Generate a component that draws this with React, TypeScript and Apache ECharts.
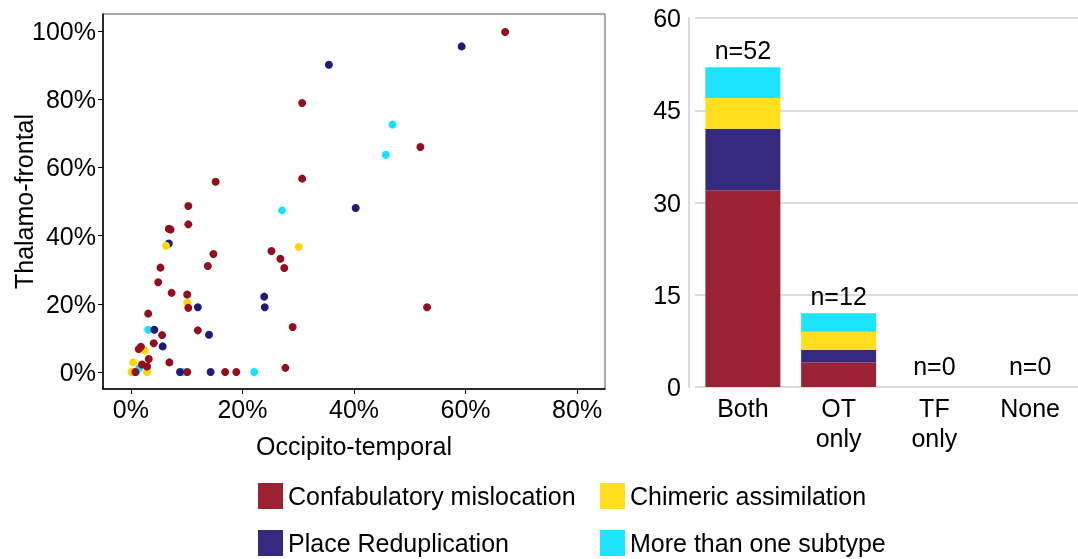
import React, { useEffect, useRef } from "react";
import * as echarts from "echarts";

const subtypes = ["Confabulatory mislocation", "Place Reduplication", "Chimeric assimilation", "More than one subtype"];
const barColors = ["#9B2232", "#352A7E", "#FFDF1E", "#1DE4FE"];
const dotColors = ["#910F1F", "#201A78", "#FFD500", "#18E1FF"];

// Scatter: [Occipito-temporal %, Thalamo-frontal %]
const confabulatory: number[][] = [
  [67.1, 99.7], [30.7, 78.9], [51.9, 66.0], [30.7, 56.7], [15.2, 55.8], [10.3, 48.7],
  [10.3, 43.3], [6.8, 42.0], [7.1, 41.8], [25.2, 35.5], [14.8, 34.6], [26.8, 33.2],
  [13.8, 31.1], [5.3, 30.6], [27.5, 30.5], [4.9, 26.3], [7.3, 23.2], [10.1, 22.7],
  [53.1, 19.0], [10.3, 18.8], [3.1, 17.1], [29.0, 13.2], [12.0, 12.2], [5.6, 10.8],
  [4.1, 8.4], [1.4, 6.7], [1.8, 7.4], [3.2, 3.8], [6.9, 2.8], [2.0, 2.2], [2.9, 1.6],
  [27.7, 1.2], [0.8, 0], [10.1, 0], [16.9, 0], [18.9, 0],
];
const placeRedup: number[][] = [
  [59.3, 95.5], [35.5, 90.1], [40.3, 48.1], [6.8, 37.7], [23.9, 22.1], [24.0, 19.0],
  [12.0, 19.0], [4.2, 12.4], [14.0, 10.9], [5.7, 7.5], [8.8, 0], [14.3, 0],
];
const chimeric: number[][] = [
  [6.3, 37.0], [30.1, 36.7], [10.1, 20.3], [2.5, 6.3], [0.4, 2.8], [0.1, 0], [2.9, 0], [0.3, 0],
];
const moreThanOne: number[][] = [
  [46.9, 72.6], [45.7, 63.7], [27.1, 47.4], [3.1, 12.4], [1.5, 1.2], [22.1, 0], [9.4, 0], [1.0, 0],
];
const scatterData = [confabulatory, placeRedup, chimeric, moreThanOne];
const xPctTicks = [0, 20, 40, 60, 80];
const yPctTicks = [0, 20, 40, 60, 80, 100];

// Stacked bars
const barCategories = ["Both", "OT\nonly", "TF\nonly", "None"];
const barConfab = [32, 4, 0, 0];
const barPlace = [10, 2, 0, 0];
const barChimeric = [5, 3, 0, 0];
const barMore = [5, 3, 0, 0];
const barData = [barConfab, barPlace, barChimeric, barMore];

const FONT = "'Liberation Sans', Arial, sans-serif";
const FS = 25;

export default function App() {
  const ref = useRef<HTMLDivElement>(null);
  useEffect(() => {
    if (!ref.current) return;
    const chart = echarts.init(ref.current, undefined, { renderer: "svg" });
    const totals = barCategories.map((_, i) => barData.reduce((s, arr) => s + arr[i], 0));

    const scatterOrder = [3, 1, 2, 0];
    const scatterSeries = scatterOrder.map((k) => ({
      type: "scatter",
      name: subtypes[k],
      xAxisIndex: 0,
      yAxisIndex: 0,
      symbolSize: 8,
      itemStyle: { color: dotColors[k], opacity: 1 },
      data: scatterData[k],
    }));

    const barSeries = subtypes.map((name, k) => ({
      type: "bar",
      name,
      stack: "total",
      xAxisIndex: 1,
      yAxisIndex: 1,
      barWidth: 75,
      itemStyle: { color: barColors[k] },
      data: barData[k],
    }));

    const totalSeries = {
      type: "bar",
      name: "totals",
      xAxisIndex: 1,
      yAxisIndex: 1,
      barWidth: 75,
      barGap: "-100%",
      z: 0,
      itemStyle: { color: "rgba(0,0,0,0)" },
      label: {
        show: true,
        position: "top",
        distance: 4,
        color: "#000",
        fontSize: FS,
        fontFamily: FONT,
        formatter: (p: any) => "n=" + p.value,
      },
      data: totals.map((v) => ({ value: v, label: { distance: v === 0 ? 9 : 5 } })),
    };

    const legendBase = {
      orient: "vertical",
      top: 483,
      padding: 0,
      itemWidth: 25,
      itemHeight: 26,
      itemGap: 21,
      selectedMode: false,
      textStyle: { fontSize: FS, color: "#000", fontFamily: FONT },
    };

    chart.setOption({
      animation: false,
      textStyle: { fontFamily: FONT, color: "#000" },
      legend: [
        {
          ...legendBase,
          left: 258,
          data: [
            { name: subtypes[0], icon: "rect", itemStyle: { color: barColors[0] } },
            { name: subtypes[1], icon: "rect", itemStyle: { color: barColors[1] } },
          ],
        },
        {
          ...legendBase,
          left: 600,
          data: [
            { name: subtypes[2], icon: "rect", itemStyle: { color: barColors[2] } },
            { name: subtypes[3], icon: "rect", itemStyle: { color: barColors[3] } },
          ],
        },
      ],
      grid: [
        { left: 103, top: 14, width: 502, height: 375, show: true, borderColor: "#555", borderWidth: 1, backgroundColor: "#fff" },
        { left: 695, top: 18, width: 388, height: 369 },
      ],
      xAxis: [
        {
          type: "value",
          gridIndex: 0,
          min: -5,
          max: 85,
          name: "Occipito-temporal",
          nameLocation: "middle",
          nameGap: 44,
          nameMoveOverlap: false,
          nameTextStyle: { fontSize: FS, color: "#000", fontFamily: FONT },
          axisLine: { show: true, onZero: false, lineStyle: { color: "#000", width: 1.5 } },
          axisTick: { show: true, length: 5, customValues: xPctTicks, lineStyle: { color: "#000" } },
          axisLabel: { customValues: xPctTicks, formatter: "{value}%", fontSize: FS, color: "#000", margin: 7, fontFamily: FONT },
          splitLine: { show: false },
        },
        {
          type: "category",
          gridIndex: 1,
          data: barCategories,
          axisLine: { show: false },
          axisTick: { show: false },
          axisLabel: { fontSize: FS, color: "#000", margin: 6, lineHeight: 30, fontFamily: FONT },
        },
      ],
      yAxis: [
        {
          type: "value",
          gridIndex: 0,
          min: -5,
          max: 105,
          name: "Thalamo-frontal",
          nameLocation: "middle",
          nameGap: 67,
          nameMoveOverlap: false,
          nameTextStyle: { fontSize: FS, color: "#000", fontFamily: FONT },
          axisLine: { show: true, onZero: false, lineStyle: { color: "#000", width: 1.5 } },
          axisTick: { show: true, length: 5, customValues: yPctTicks, lineStyle: { color: "#000" } },
          axisLabel: { customValues: yPctTicks, formatter: "{value}%", fontSize: FS, color: "#000", margin: 7, fontFamily: FONT },
          splitLine: { show: false },
        },
        {
          type: "value",
          gridIndex: 1,
          min: 0,
          max: 60,
          interval: 15,
          offset: 6,
          axisLine: { show: true, lineStyle: { color: "#d9d9d9", width: 2 } },
          axisTick: { show: false },
          axisLabel: { fontSize: FS, color: "#000", margin: 8, fontFamily: FONT },
          splitLine: { show: true, lineStyle: { color: "#dcdcdc", width: 2 } },
        },
      ],
      series: [...barSeries, totalSeries, ...scatterSeries],
    });
    return () => chart.dispose();
  }, []);
  return <div ref={ref} style={{ position: "fixed", left: 0, top: 0, width: 1078, height: 559 }} />;
}
